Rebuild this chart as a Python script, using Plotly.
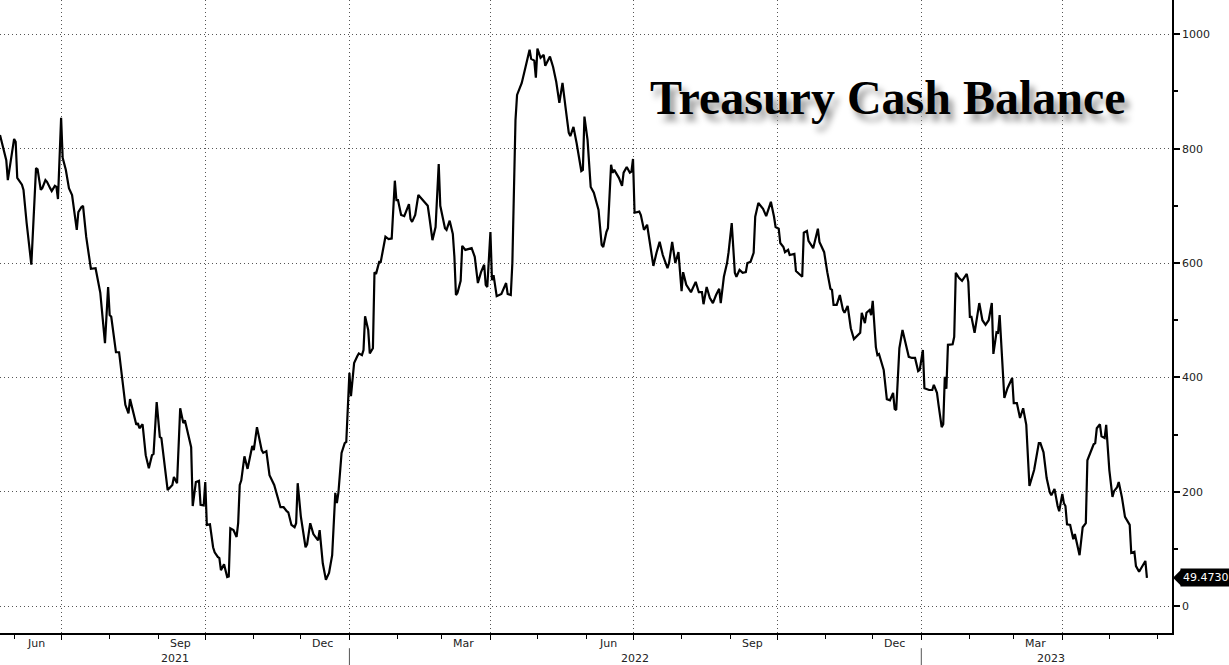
import plotly.graph_objects as go

dates = [
"2021-05-23","2021-05-27","2021-05-28","2021-06-01","2021-06-02","2021-06-03","2021-06-06","2021-06-07","2021-06-09","2021-06-12",
"2021-06-15","2021-06-16","2021-06-18","2021-06-19","2021-06-21","2021-06-22","2021-06-24","2021-06-25","2021-06-27","2021-06-28",
"2021-06-29","2021-07-01","2021-07-02","2021-07-04","2021-07-06","2021-07-08","2021-07-11","2021-07-12","2021-07-14","2021-07-15",
"2021-07-17","2021-07-20","2021-07-23","2021-07-26","2021-07-29","2021-07-31","2021-08-01","2021-08-02","2021-08-05","2021-08-07",
"2021-08-11","2021-08-13","2021-08-14","2021-08-16","2021-08-18","2021-08-19","2021-08-20","2021-08-22","2021-08-24","2021-08-26",
"2021-08-28","2021-08-29","2021-08-31","2021-09-02","2021-09-03","2021-09-07","2021-09-09","2021-09-10","2021-09-11","2021-09-13",
"2021-09-15","2021-09-17","2021-09-18","2021-09-22","2021-09-23","2021-09-25","2021-09-27","2021-09-28","2021-09-30","2021-10-01",
"2021-10-02","2021-10-04","2021-10-06","2021-10-07","2021-10-09","2021-10-10","2021-10-11","2021-10-13","2021-10-15","2021-10-16",
"2021-10-17","2021-10-19","2021-10-21","2021-10-22","2021-10-23","2021-10-24","2021-10-26","2021-10-28","2021-10-31","2021-11-01",
"2021-11-03","2021-11-06","2021-11-07","2021-11-09","2021-11-11","2021-11-14","2021-11-18","2021-11-20","2021-11-22","2021-11-23",
"2021-11-25","2021-11-27","2021-11-28","2021-11-29","2021-12-01","2021-12-04","2021-12-05","2021-12-07","2021-12-09","2021-12-11",
"2021-12-12","2021-12-13","2021-12-15","2021-12-17","2021-12-19","2021-12-21","2021-12-23","2021-12-24","2021-12-25","2021-12-27",
"2021-12-29","2021-12-30","2021-12-31","2022-01-01","2022-01-02","2022-01-04","2022-01-06","2022-01-07","2022-01-09","2022-01-10",
"2022-01-11","2022-01-13","2022-01-14","2022-01-16","2022-01-17","2022-01-18","2022-01-20","2022-01-21","2022-01-24","2022-01-26",
"2022-01-28","2022-01-30","2022-01-31","2022-02-01","2022-02-03","2022-02-05","2022-02-08","2022-02-09","2022-02-10","2022-02-12",
"2022-02-14","2022-02-17","2022-02-20","2022-02-21","2022-02-23","2022-02-25","2022-02-27","2022-02-28","2022-03-03","2022-03-04",
"2022-03-06","2022-03-08","2022-03-09","2022-03-10","2022-03-11","2022-03-13","2022-03-14","2022-03-16","2022-03-18","2022-03-20",
"2022-03-22","2022-03-24","2022-03-26","2022-03-28","2022-03-29","2022-03-30","2022-04-01","2022-04-02","2022-04-03","2022-04-05",
"2022-04-08","2022-04-11","2022-04-12","2022-04-14","2022-04-15","2022-04-17","2022-04-18","2022-04-21","2022-04-23","2022-04-26",
"2022-04-27","2022-04-29","2022-04-30","2022-05-01","2022-05-03","2022-05-05","2022-05-06","2022-05-09","2022-05-11","2022-05-13",
"2022-05-15","2022-05-17","2022-05-19","2022-05-21","2022-05-22","2022-05-24","2022-05-26","2022-05-29","2022-05-30","2022-05-31",
"2022-06-02","2022-06-04","2022-06-06","2022-06-09","2022-06-11","2022-06-12","2022-06-14","2022-06-15","2022-06-17","2022-06-18",
"2022-06-19","2022-06-22","2022-06-24","2022-06-25","2022-06-27","2022-06-29","2022-06-30","2022-07-01","2022-07-02","2022-07-05",
"2022-07-06","2022-07-08","2022-07-10","2022-07-12","2022-07-14","2022-07-16","2022-07-18","2022-07-20","2022-07-23","2022-07-24",
"2022-07-26","2022-07-28","2022-07-30","2022-08-01","2022-08-02","2022-08-04","2022-08-07","2022-08-08","2022-08-10","2022-08-12",
"2022-08-14","2022-08-15","2022-08-17","2022-08-19","2022-08-21","2022-08-23","2022-08-25","2022-08-26","2022-08-28","2022-08-30",
"2022-08-31","2022-09-02","2022-09-04","2022-09-05","2022-09-07","2022-09-09","2022-09-11","2022-09-12","2022-09-14","2022-09-16",
"2022-09-17","2022-09-19","2022-09-22","2022-09-24","2022-09-27","2022-09-29","2022-09-30","2022-10-02","2022-10-03","2022-10-05",
"2022-10-06","2022-10-08","2022-10-09","2022-10-12","2022-10-13","2022-10-17","2022-10-18","2022-10-20","2022-10-21","2022-10-24",
"2022-10-25","2022-10-27","2022-10-28","2022-10-31","2022-11-02","2022-11-04","2022-11-05","2022-11-06","2022-11-08","2022-11-10",
"2022-11-12","2022-11-13","2022-11-15","2022-11-17","2022-11-19","2022-11-23","2022-11-24","2022-11-26","2022-11-27","2022-11-29",
"2022-11-30","2022-12-01","2022-12-03","2022-12-04","2022-12-05","2022-12-08","2022-12-10","2022-12-12","2022-12-14","2022-12-15",
"2022-12-16","2022-12-18","2022-12-20","2022-12-24","2022-12-26","2022-12-28","2022-12-30","2022-12-31","2023-01-02","2023-01-03",
"2023-01-06","2023-01-08","2023-01-09","2023-01-11","2023-01-12","2023-01-14","2023-01-15","2023-01-16","2023-01-17","2023-01-18",
"2023-01-21","2023-01-22","2023-01-23","2023-01-25","2023-01-27","2023-01-30","2023-01-31","2023-02-01","2023-02-02","2023-02-04",
"2023-02-07","2023-02-09","2023-02-11","2023-02-13","2023-02-15","2023-02-16","2023-02-18","2023-02-19","2023-02-20","2023-02-23",
"2023-02-25","2023-02-28","2023-03-01","2023-03-03","2023-03-05","2023-03-07","2023-03-09","2023-03-11","2023-03-14","2023-03-17",
"2023-03-18","2023-03-20","2023-03-22","2023-03-24","2023-03-25","2023-03-27","2023-03-29","2023-03-30","2023-04-01","2023-04-02",
"2023-04-03","2023-04-04","2023-04-06","2023-04-08","2023-04-09","2023-04-12","2023-04-14","2023-04-16","2023-04-17","2023-04-19",
"2023-04-21","2023-04-22","2023-04-23","2023-04-25","2023-04-26","2023-04-28","2023-04-29","2023-05-01","2023-05-03","2023-05-04",
"2023-05-06","2023-05-07","2023-05-09","2023-05-11","2023-05-14","2023-05-15","2023-05-17","2023-05-18","2023-05-20","2023-05-24",
"2023-05-25",
]

balance = [
824,780,745,817,812,749,737,728,670,597,
766,764,728,731,745,742,731,726,735,733,
712,854,784,763,731,719,658,689,698,700,
646,590,591,548,460,558,509,506,444,444,
352,337,362,337,317,320,311,318,264,241,
264,266,357,296,294,203,208,212,226,215,
346,320,325,278,175,217,219,177,176,217,
142,143,103,94,86,84,63,73,51,52,
136,133,121,145,212,220,262,240,280,273,
313,273,268,271,229,212,173,173,166,164,
142,138,145,215,157,103,108,145,126,117,
115,133,75,46,58,89,198,180,199,268,
285,287,360,408,367,425,437,442,439,448,
507,483,442,451,584,581,602,602,646,642,
643,744,710,710,684,682,703,677,672,684,
719,709,700,681,640,663,773,700,661,658,
674,651,611,544,548,569,630,623,625,626,
611,565,584,597,562,558,654,570,579,542,
546,565,546,544,600,850,894,915,938,973,
957,954,924,975,959,964,945,961,943,917,
880,915,871,828,822,838,810,761,763,856,
815,733,723,693,632,628,654,661,772,758,
763,749,735,758,768,758,760,782,688,690,
684,658,667,632,595,618,637,614,591,600,
637,600,619,551,584,562,549,555,567,549,
549,528,558,539,530,544,555,530,576,600,
619,670,583,576,588,583,584,600,602,618,
681,705,695,682,707,681,663,660,635,628,
619,623,614,616,586,576,653,656,639,626,
637,660,637,619,584,555,553,527,527,544,
518,513,525,486,467,478,513,495,513,518,
509,534,453,439,441,413,362,360,373,345,
343,451,483,436,434,434,411,413,448,381,
378,378,387,373,352,313,318,401,380,457,
458,471,583,574,569,581,567,506,506,478,
530,500,492,500,530,441,479,478,509,364,
381,399,355,355,329,346,317,210,238,285,
285,269,224,199,194,205,175,166,196,180,
175,143,142,117,126,89,138,145,255,269,
283,285,311,318,297,294,317,238,191,201,
208,217,191,156,142,93,95,70,60,79,
49.473,
]

y_ticks = [0, 200, 400, 600, 800, 1000]
y_minor = [100, 300, 500, 700, 900]
quarter_starts = ["2021-07-01", "2021-10-01", "2022-01-01", "2022-04-01",
                  "2022-07-01", "2022-10-01", "2023-01-01", "2023-04-01"]
month_starts = ["2021-06-01", "2021-08-01", "2021-09-01", "2021-11-01", "2021-12-01",
                "2022-02-01", "2022-03-01", "2022-05-01", "2022-06-01", "2022-08-01",
                "2022-09-01", "2022-11-01", "2022-12-01", "2023-02-01", "2023-03-01",
                "2023-05-01", "2023-06-01"]
month_label_dates = ["2021-06-15", "2021-09-15", "2021-12-15", "2022-03-15",
                     "2022-06-15", "2022-09-15", "2022-12-15", "2023-03-15"]
month_labels = ["Jun", "Sep", "Dec", "Mar", "Jun", "Sep", "Dec", "Mar"]
year_label_dates = ["2021-09-12", "2022-07-02", "2023-03-25"]
year_labels = ["2021", "2022", "2023"]
year_breaks = ["2022-01-01", "2023-01-01"]
x_range = ["2021-05-23", "2023-06-10"]
title_text = "Treasury Cash Balance"

axis_font = dict(family="DejaVu Sans", size=11, color="#222222")
grid_style = dict(showgrid=True, gridcolor="#555555", griddash="1px,3px", gridwidth=1)

fig = go.Figure()
fig.add_trace(go.Scatter(
    x=dates, y=balance, mode="lines",
    line=dict(color="black", width=2.2),
    showlegend=False, hoverinfo="skip",
))

annotations = []
for d, t in zip(month_label_dates, month_labels):
    annotations.append(dict(x=d, xref="x", y=0, yref="paper", text=t,
                            showarrow=False, yanchor="top", yshift=-2,
                            font=axis_font))
for d, t in zip(year_label_dates, year_labels):
    annotations.append(dict(x=d, xref="x", y=0, yref="paper", text=t,
                            showarrow=False, yanchor="top", yshift=-17,
                            font=axis_font))
annotations.append(dict(
    x=0.758, xref="paper", y=0.846, yref="paper", text="<b>" + title_text + "</b>",
    showarrow=False, xanchor="center", yanchor="middle",
    font=dict(family="Liberation Serif", size=48, color="black",
              shadow="5px 7px 6px #9a9a9a"),
))
last_val = balance[-1]
annotations.append(dict(
    x=1, xref="paper", y=last_val, yref="y", text=f"{last_val:.4f}",
    showarrow=False, xanchor="left", yanchor="middle", xshift=8,
    bgcolor="black", borderpad=2,
    font=dict(family="DejaVu Sans", size=11, color="white"),
))

shapes = []
for d in year_breaks:
    shapes.append(dict(type="line", xref="x", yref="paper", x0=d, x1=d,
                       y0=-0.024, y1=-0.06, line=dict(color="#555555", width=1)))
shapes.append(dict(type="path", xref="paper", yref="y", xsizemode="pixel",
                   ysizemode="pixel", xanchor=1, yanchor=last_val,
                   path="M 1 0 L 9 -8 L 9 8 Z", fillcolor="black",
                   line=dict(width=0)))

fig.update_layout(
    width=1229, height=665,
    margin=dict(l=0, r=57, t=0, b=32),
    paper_bgcolor="white", plot_bgcolor="white",
    annotations=annotations, shapes=shapes,
    xaxis=dict(
        type="date", range=x_range,
        tickvals=quarter_starts, ticktext=[""] * len(quarter_starts),
        showline=True, linecolor="black", linewidth=1.5,
        ticks="outside", ticklen=5, tickcolor="black", tickwidth=1,
        minor=dict(tickvals=month_starts, ticks="outside", ticklen=4,
                   tickcolor="black", showgrid=False),
        zeroline=False, fixedrange=True, **grid_style,
    ),
    yaxis=dict(
        side="right", range=[-47, 1060],
        tickvals=y_ticks, ticktext=[str(v) for v in y_ticks],
        showline=True, linecolor="black", linewidth=1.5,
        ticks="outside", ticklen=6, tickwidth=2, tickcolor="black",
        minor=dict(tickvals=y_minor, ticks="outside", ticklen=4,
                   tickcolor="black", showgrid=False),
        tickfont=axis_font, zeroline=False, fixedrange=True, **grid_style,
    ),
)

fig.write_html(
    "out.html",
    config={"displayModeBar": False},
    post_script="document.body.style.margin='0px';document.body.style.overflow='hidden';",
)
